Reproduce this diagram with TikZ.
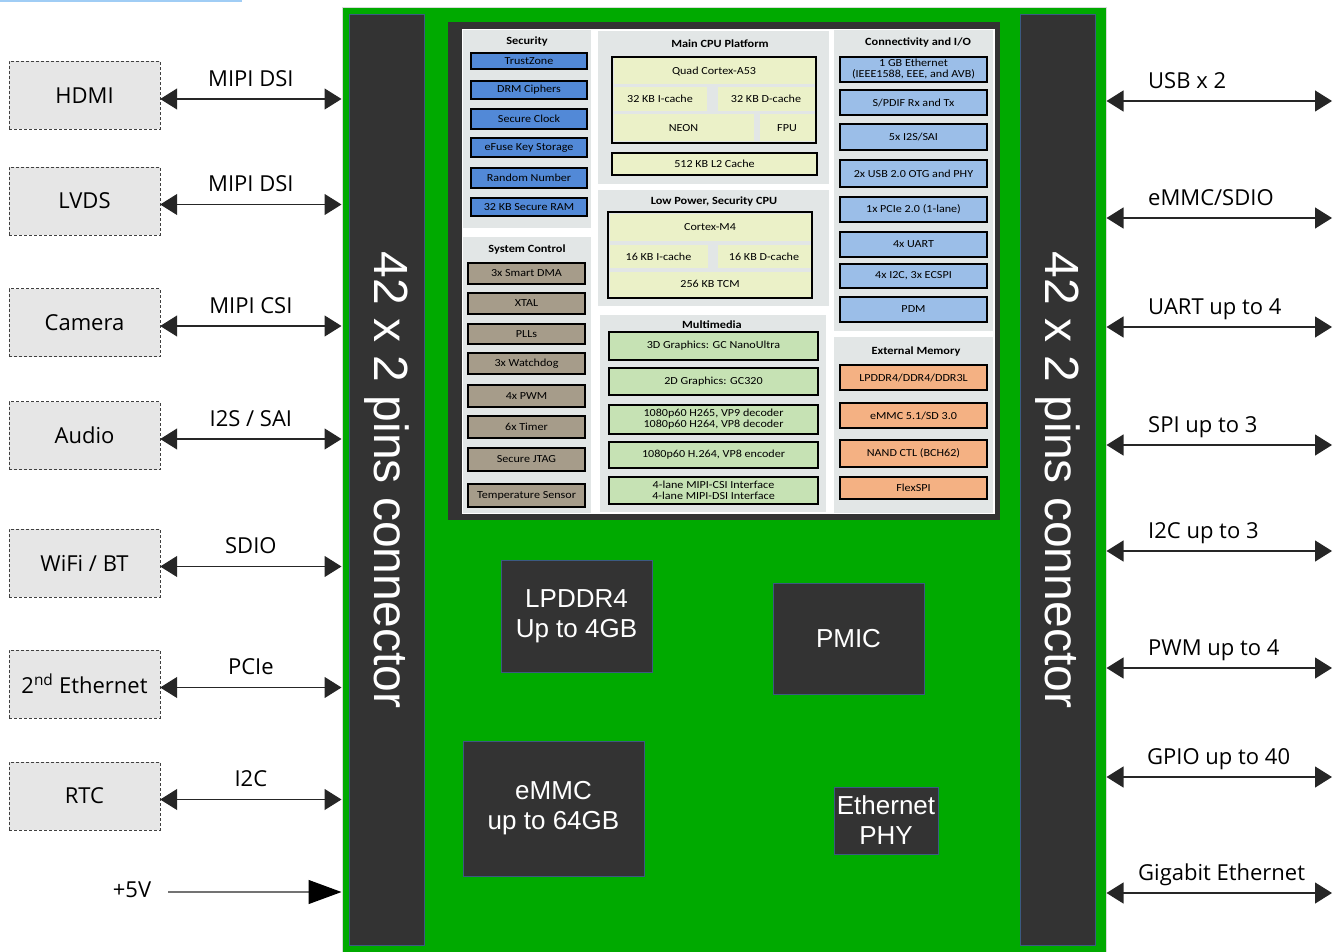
\documentclass[tikz,border=0pt]{standalone}
\usepackage{fontspec}
\setmainfont{Open Sans}
\newfontfamily\chipfont[FakeStretch=1.12]{Carlito}
\newfontfamily\partfont{Liberation Sans}
\usetikzlibrary{arrows.meta,positioning}

\definecolor{boardgreen}{RGB}{0,170,0}
\definecolor{darkpart}{RGB}{51,51,51}
\definecolor{partedge}{RGB}{60,90,130}
\definecolor{periphfill}{RGB}{230,230,230}
\definecolor{panelgray}{RGB}{226,230,230}
\definecolor{secblue}{RGB}{82,137,215}
\definecolor{systan}{RGB}{166,156,138}
\definecolor{cpuyellow}{RGB}{235,241,200}
\definecolor{mmgreen}{RGB}{198,226,180}
\definecolor{ioblue}{RGB}{155,190,232}
\definecolor{memorange}{RGB}{244,177,131}
\definecolor{topline}{RGB}{160,205,245}

\tikzset{
  board/.style={fill=boardgreen, draw=black!15, line width=1pt, inner sep=0pt},
  conn/.style={fill=darkpart, draw=partedge, line width=1pt, text=white, inner sep=0pt,
    font=\partfont\fontsize{48}{50}\selectfont, rotate=-90,
    minimum width=930pt, minimum height=75pt},
  part/.style={fill=darkpart, draw=partedge, line width=1pt, text=white, inner sep=0pt,
    align=center, font=\partfont\fontsize{26}{30}\selectfont},
  periph/.style={draw=black!75, dashed, dash pattern=on 3pt off 2pt, fill=periphfill,
    minimum width=151pt, minimum height=68pt, inner sep=0pt,
    font=\fontsize{22}{26}\selectfont},
  lbl/.style={inner sep=0pt, text height=16pt, text depth=5pt, font=\fontsize{22}{26}\selectfont},
  sig/.style={draw=black!85, line width=1.2pt, <->, >={Triangle[length=17pt,width=21pt]}},
  pwrarrow/.style={draw=black!55, line width=1.2pt,
    arrows={-Triangle[length=33pt,width=24pt,color=black]}},
  panel/.style={fill=panelgray, inner sep=0pt},
  ptitle/.style={inner sep=0pt, font=\chipfont\bfseries\fontsize{11}{12}\selectfont},
  blk/.style={draw=black, line width=1.2pt, inner sep=0pt, align=center,
    font=\chipfont\fontsize{10.8}{11}\selectfont},
  cell/.style={fill=cpuyellow, inner sep=0pt, font=\chipfont\fontsize{10.8}{11}\selectfont}
}

\begin{document}
\begin{tikzpicture}[x=1pt,y=-1pt]
\useasboundingbox (0,0) rectangle (1340,952);
\draw[topline, line width=2pt] (0,1) -- (242,1);

% board and the two connectors
\node[board, minimum width=764pt, minimum height=950pt] (board) at (724,483) {};
\node[conn] (lconn) at (386.5,480) {42 x 2 pins connector};
\node[conn] (rconn) at (1058,480) {42 x 2 pins connector};

% SoC
\node[fill=darkpart, inner sep=0pt, minimum width=552pt, minimum height=498pt] (soc) at (724,271) {};
\fill[white] (462,29) rectangle (995,514);

\node[panel, minimum width=128pt, minimum height=198pt] (secpanel) at (527,129) {};
\node[panel, minimum width=128pt, minimum height=276pt] (syspanel) at (527,375) {};
\node[panel, minimum width=231pt, minimum height=153pt] (cpupanel) at (713.5,107.5) {};
\node[panel, minimum width=231pt, minimum height=116pt] (lppanel) at (713.5,248) {};
\node[panel, minimum width=226pt, minimum height=197pt] (mmpanel) at (713,413.5) {};
\node[panel, minimum width=159pt, minimum height=301pt] (iopanel) at (913.5,180.5) {};
\node[panel, minimum width=159pt, minimum height=176pt] (mempanel) at (913.5,425) {};

\node[ptitle] (sectitle) at (527,42) {Security};
\node[ptitle] (systitle) at (527,250) {System Control};
\node[ptitle] (cputitle) at (720,44) {Main CPU Platform};
\node[ptitle] (lptitle) at (714,202) {Low Power, Security CPU};
\node[ptitle] (mmtitle) at (712,325) {Multimedia};
\node[ptitle] (iotitle) at (918,43) {Connectivity and I/O};
\node[ptitle] (memtitle) at (916,352) {External Memory};

\foreach \t/\b/\txt [count=\i] in {53/69/TrustZone, 81/99/DRM Ciphers, 109/129/Secure Clock,
    138/157/eFuse Key Storage, 168/188/Random Number, 198/216/32 KB Secure RAM}
  \node[blk, fill=secblue, minimum width=116pt, minimum height={(\b-\t)*1pt}] (sec\i) at (529,{(\t+\b)/2}) {\txt};

\foreach \t/\b/\txt [count=\i] in {263/284/3x Smart DMA, 293/314/XTAL, 324/344/PLLs,
    353/374/3x Watchdog, 385/407/4x PWM, 416/438/6x Timer, 448/471/Secure JTAG,
    484/507/Temperature Sensor}
  \node[blk, fill=systan, minimum width=117pt, minimum height={(\b-\t)*1pt}] (sys\i) at (526.5,{(\t+\b)/2}) {\txt};

\node[draw=black, line width=1.2pt, fill=panelgray, inner sep=0pt, minimum width=204pt, minimum height=86pt] (a53) at (714,100) {};
\node[cell, minimum width=201pt, minimum height=26pt] (a53core) at (714,71) {Quad Cortex-A53};
\node[cell, minimum width=93pt, minimum height=24pt] (a53ic) at (660,99) {32 KB I-cache};
\node[cell, minimum width=97pt, minimum height=24pt] (a53dc) at (766,99) {32 KB D-cache};
\node[cell, minimum width=140pt, minimum height=27pt] (neon) at (683.5,128) {NEON};
\node[cell, minimum width=55pt, minimum height=27pt] (fpu) at (787,128) {FPU};
\node[blk, fill=cpuyellow, minimum width=205pt, minimum height=22pt] (l2) at (714.5,164) {512 KB L2 Cache};

\node[draw=black, line width=1.2pt, fill=panelgray, inner sep=0pt, minimum width=204pt, minimum height=86pt] (m4) at (710,255) {};
\node[cell, minimum width=201pt, minimum height=27pt] (m4core) at (710,227) {Cortex-M4};
\node[cell, minimum width=98pt, minimum height=23pt] (m4ic) at (658.5,256.5) {16 KB I-cache};
\node[cell, minimum width=93pt, minimum height=23pt] (m4dc) at (764,256.5) {16 KB D-cache};
\node[cell, minimum width=201pt, minimum height=25pt] (tcm) at (710,284) {256 KB TCM};

\foreach \t/\b/\txt [count=\i] in {332/360/3D Graphics: GC NanoUltra, 368/395/2D Graphics: GC320,
    405/434/{1080p60 H265, VP9 decoder\\1080p60 H264, VP8 decoder},
    442/468/{1080p60 H.264, VP8 encoder},
    477/504/4-lane MIPI-CSI Interface\\4-lane MIPI-DSI Interface}
  \node[blk, fill=mmgreen, minimum width=209pt, minimum height={(\b-\t)*1pt}] (mm\i) at (713.5,{(\t+\b)/2}) {\txt};

\foreach \t/\b/\txt [count=\i] in {57/82/{1 GB Ethernet\\(IEEE1588, EEE, and AVB)},
    90/115/{S/PDIF Rx and Tx}, 124/150/{5x I2S/SAI}, 160/187/2x USB 2.0 OTG and PHY,
    197/222/1x PCIe 2.0 (1-lane), 232/257/4x UART, 264/288/{4x I2C, 3x ECSPI}, 297/322/PDM}
  \node[blk, fill=ioblue, minimum width=147pt, minimum height={(\b-\t)*1pt}] (io\i) at (913.5,{(\t+\b)/2}) {\txt};

\foreach \t/\b/\txt [count=\i] in {365/390/{LPDDR4/DDR4/DDR3L}, 403/428/{eMMC 5.1/SD 3.0},
    440/467/NAND CTL (BCH62), 477/499/FlexSPI}
  \node[blk, fill=memorange, minimum width=147pt, minimum height={(\b-\t)*1pt}] (mem\i) at (913.5,{(\t+\b)/2}) {\txt};

% parts on the board
\node[part, minimum width=151pt, minimum height=112pt] (lpddr) at (576.5,616) {LPDDR4\\Up to 4GB};
\node[part, minimum width=151pt, minimum height=111pt] (pmic) at (848.5,638.5) {PMIC};
\node[part, minimum width=181pt, minimum height=135pt] (emmc) at (553.5,808.5) {eMMC\\up to 64GB};
\node[part, minimum width=104pt, minimum height=67pt] (ephy) at (886,820.5) {Ethernet\\PHY};

% left side peripherals
\foreach \n/\y/\txt/\bus in {hdmi/95.5/HDMI/MIPI DSI, lvds/201/LVDS/MIPI DSI, cam/322.5/Camera/MIPI CSI,
    audio/435.5/Audio/{I2S / SAI}, wifi/563/{WiFi / BT}/SDIO,
    eth/684/{2\textsuperscript{nd} Ethernet}/PCIe, rtc/796/RTC/I2C}
{
  \node[periph] (\n) at (84.5,\y) {\txt};
  \coordinate (\n p) at ([yshift=-3.5pt]\n.east);
  \draw[sig] (\n p) -- node[lbl, above=7pt] (\n bus) {\bus} (\n p -| board.west);
}

\node[lbl] (pwr) at (132,891.5) {+5V};
\coordinate (pwrin) at (168,892);
\draw[pwrarrow] (pwrin) -- (pwrin -| board.west);

% right side signals
\foreach \y/\x/\txt [count=\i] in {101/1148/USB x 2, 218/1148/{eMMC/SDIO}, 327/1148/UART up to 4,
    445/1148/SPI up to 3, 551/1148/I2C up to 3, 668/1148/PWM up to 4,
    777/1147/GPIO up to 40, 893/1138/Gigabit Ethernet}
{
  \coordinate (out\i) at (1332,\y);
  \draw[sig] (out\i -| board.east) -- (out\i);
  \node[lbl, anchor=south west] (outlbl\i) at ([yshift=7pt]\x,\y) {\txt};
}
\end{tikzpicture}
\end{document}
